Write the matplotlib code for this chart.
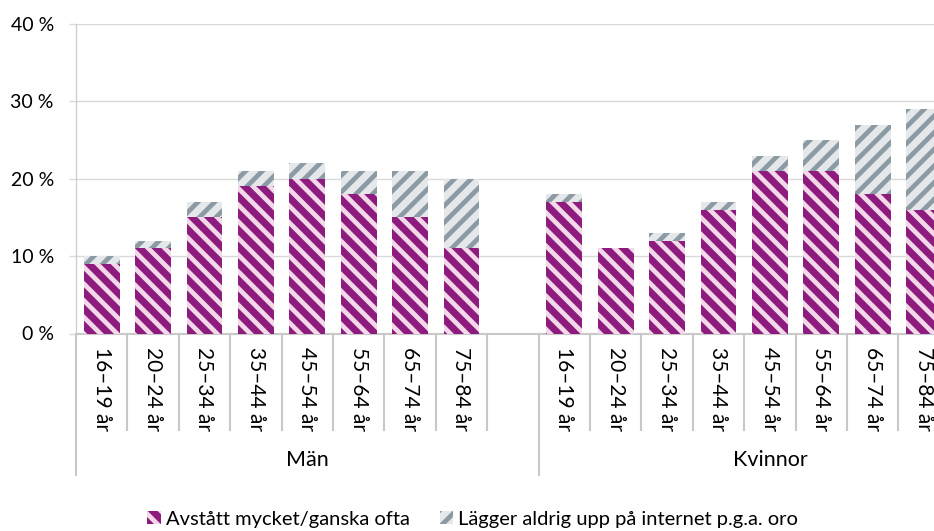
import matplotlib
matplotlib.use("Agg")
import matplotlib.pyplot as plt
import numpy as np
from matplotlib.patches import Patch

plt.rcParams['font.family'] = ['Lato', 'DejaVu Sans']
plt.rcParams['hatch.linewidth'] = 3.4

age_labels = ["16–19 år", "20–24 år", "25–34 år", "35–44 år", "45–54 år", "55–64 år", "65–74 år", "75–84 år"]
groups = ["Män", "Kvinnor"]
avstatt_man = [9, 11, 15, 19, 20, 18, 15, 11]
lagger_man = [1, 1, 2, 2, 2, 3, 6, 9]
avstatt_kv = [17, 11, 12, 16, 21, 21, 18, 16]
lagger_kv = [1, 0, 1, 1, 2, 4, 9, 13]
series_names = ["Avstått mycket/ganska ofta", "Lägger aldrig upp på internet p.g.a. oro"]
yticks = [0, 10, 20, 30, 40]
ytick_labels = ["0 %", "10 %", "20 %", "30 %", "40 %"]

purple = '#8E1B7E'
pink = '#F3D8E9'
grey_bg = '#E5E8EB'
grey_st = '#8C9AA4'

W, H = 934, 531
fig = plt.figure(figsize=(W / 100, H / 100), dpi=100)
left_px, right_px, top_px, bot_px = 76, 934, 24, 333.5
ax = fig.add_axes([left_px / W, 1 - bot_px / H, (right_px - left_px) / W, (bot_px - top_px) / H])

n = len(age_labels)
x_man = np.arange(n)
x_kv = np.arange(n) + n + 1
xs = np.concatenate([x_man, x_kv])
a_vals = np.array(avstatt_man + avstatt_kv)
l_vals = np.array(lagger_man + lagger_kv)

bw = 0.70
ax.bar(xs, a_vals, width=bw, color=purple, edgecolor=pink, hatch='\\\\', linewidth=0, zorder=3)
ax.bar(xs, l_vals, width=bw, bottom=a_vals, color=grey_bg, edgecolor=grey_st, hatch='//', linewidth=0, zorder=3)

slot_px = 51.4
xmax = (right_px - left_px) / slot_px - 0.5
ax.set_xlim(-0.5, xmax)
ax.set_ylim(0, 40)
ax.set_yticks(yticks)
ax.set_yticklabels(ytick_labels, fontsize=14, color='#000000')
ax.yaxis.grid(True, color='#D9D9D9', linewidth=1.0, zorder=0)
ax.tick_params(axis='y', length=5, color='#D9D9D9', width=1.0, pad=11)
ax.set_xticks([])
for s in ['top', 'right']:
    ax.spines[s].set_visible(False)
ax.spines['left'].set_color('#D0D0D0')
ax.spines['bottom'].set_color('#C8C8C8')
ax.spines['left'].set_linewidth(1.0)
ax.spines['bottom'].set_linewidth(1.5)

trans = ax.get_xaxis_transform()
axh_px = bot_px - top_px
def ypx(p):
    return -(p - bot_px) / axh_px

# separators
for k in range(0, 2 * n + 3):
    xb = k - 0.5
    long = k in (0, n + 1, 2 * n + 2)
    y_end = ypx(475) if long else ypx(430)
    ax.plot([xb, xb], [0, y_end], transform=trans, color='#C8C8C8', lw=1.5, clip_on=False)

for xi, lab in zip(xs, age_labels + age_labels):
    ax.text(xi, ypx(347), lab, transform=trans, rotation=270, ha='center', va='top', fontsize=15)

ax.text((-0.5 + n + 0.5) / 2, ypx(460), groups[0], transform=trans, ha='center', va='center', fontsize=15.5)
ax.text((n + 0.5 + 2 * n + 1.5) / 2, ypx(460), groups[1], transform=trans, ha='center', va='center', fontsize=15.5)

handles = [Patch(facecolor=purple, edgecolor=pink, hatch='\\\\', linewidth=0),
           Patch(facecolor=grey_bg, edgecolor=grey_st, hatch='//', linewidth=0)]
fig.legend(handles, series_names, loc='center', bbox_to_anchor=(0.506, 1 - 519 / H), ncol=2,
           frameon=False, fontsize=14.5, handlelength=0.65, handleheight=0.65,
           handletextpad=0.25, columnspacing=1.5, borderpad=0, borderaxespad=0)

fig.savefig('out.png', dpi=100)
